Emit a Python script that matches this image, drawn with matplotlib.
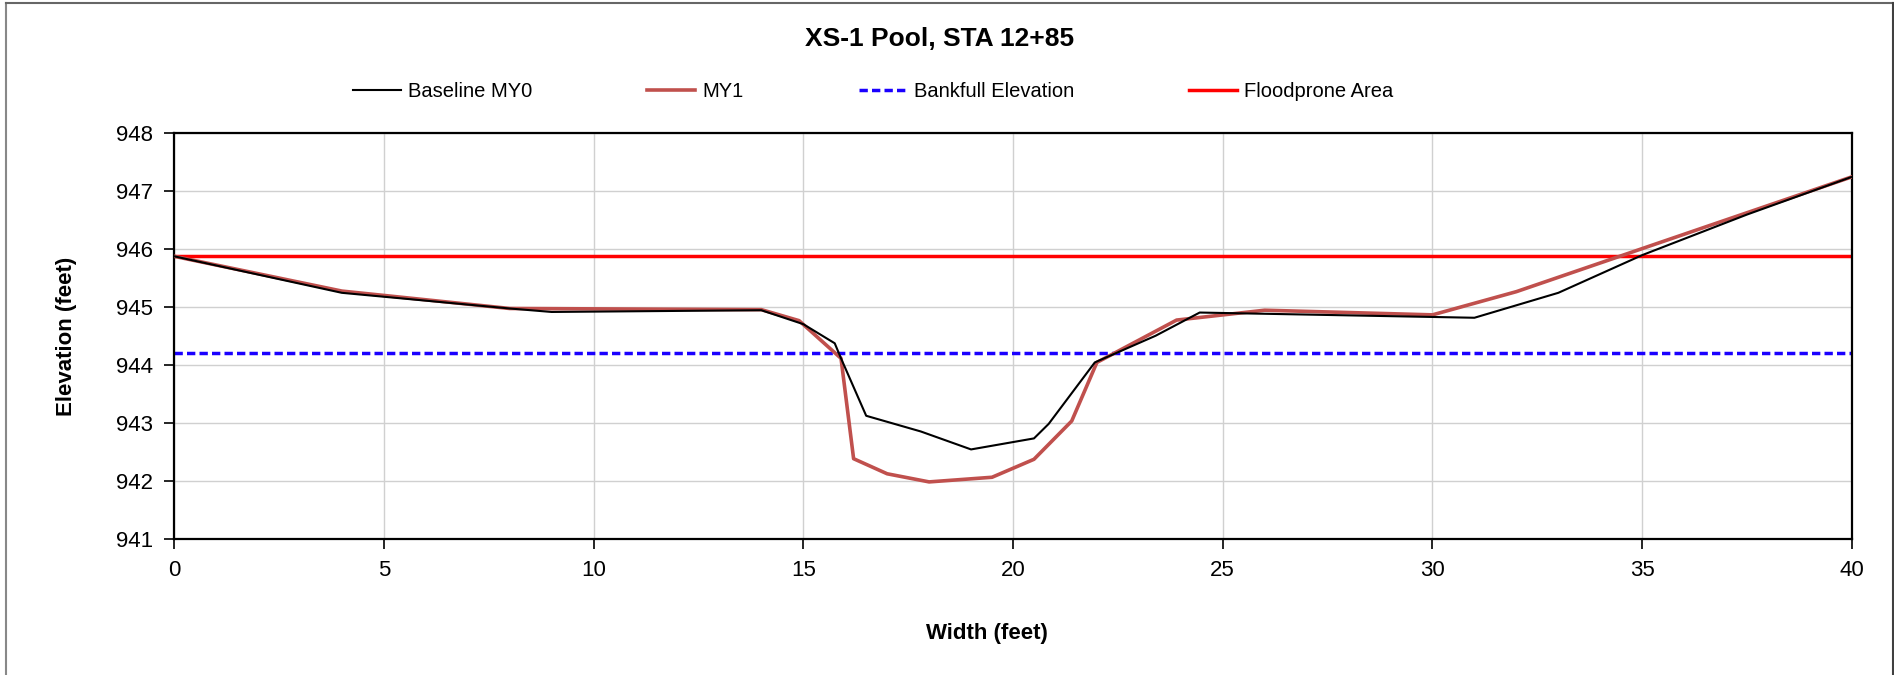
import matplotlib.pyplot as plt
from matplotlib.lines import Line2D

plt.rcParams['font.family'] = ['Liberation Sans', 'DejaVu Sans']

# station (ft) / elevation (ft)
base_x = [0, 4, 8, 9, 14, 15, 15.75, 15.9, 16.5, 17.8, 19.0, 20.5, 20.85, 21.95,
          23.4, 24.45, 31.0, 33.0, 35.0, 37.5, 40.0]
base_y = [945.88, 945.25, 944.98, 944.92, 944.95, 944.71, 944.38, 944.12, 943.13,
          942.86, 942.55, 942.74, 942.99, 944.05, 944.51, 944.91, 944.82, 945.25,
          945.9, 946.6, 947.25]

my1_x = [0, 4, 8, 14, 14.9, 15.9, 16.2, 17.0, 18.0, 19.5, 20.5, 21.4, 22.0, 23.9,
         26.0, 30.0, 32.0, 40.0]
my1_y = [945.88, 945.28, 944.98, 944.96, 944.77, 944.12, 942.39, 942.13, 941.99,
         942.07, 942.38, 943.04, 944.05, 944.78, 944.95, 944.87, 945.27, 947.25]

bankfull = 944.22
floodprone = 945.88
x_ticks = [0, 5, 10, 15, 20, 25, 30, 35, 40]
y_ticks = [941, 942, 943, 944, 945, 946, 947, 948]

fig = plt.figure(figsize=(18.94, 6.75), dpi=100)
ax = fig.add_axes([0.0919, 0.201, 0.8859, 0.6015])

ax.plot(base_x, base_y, color='black', lw=1.5, label='Baseline MY0', zorder=4)
ax.plot(my1_x, my1_y, color='#c0504d', lw=2.6, label='MY1', zorder=3)
ax.axhline(bankfull, color='#1a00ff', lw=2.5, ls=(0, (2.4, 1.2)),
           label='Bankfull Elevation', zorder=2)
ax.axhline(floodprone, color='#ff0000', lw=2.5, label='Floodprone Area', zorder=2)

ax.set_xlim(0, 40)
ax.set_ylim(941, 948)
ax.set_xticks(x_ticks)
ax.set_yticks(y_ticks)
ax.grid(True, color='#d0d0d0', lw=1)
ax.set_axisbelow(True)
ax.tick_params(direction='out', length=7, width=1.2, labelsize=16, pad=8)
for s in ax.spines.values():
    s.set_linewidth(1.6)

ax.set_xlabel('Width (feet)', fontsize=16, fontweight='bold')
ax.xaxis.set_label_coords(0.4845, -0.205)
ax.set_ylabel('Elevation (feet)', fontsize=16, fontweight='bold', labelpad=28)

fig.text(0.496, 0.942, 'XS-1 Pool, STA 12+85', ha='center', va='center',
         fontsize=19, fontweight='bold')
fig.legend(loc='center', bbox_to_anchor=(0.461, 0.865), ncol=4, frameon=False,
           fontsize=14.5, handlelength=2.4, handletextpad=0.35, columnspacing=5.7)

# chart-area frame (no bottom edge)
fig.add_artist(Line2D([0.003, 0.003], [0, 0.995], transform=fig.transFigure,
                      color='#888888', lw=1.5))
fig.add_artist(Line2D([0.003, 0.9993], [0.995, 0.995], transform=fig.transFigure,
                      color='#666666', lw=1.5))
fig.add_artist(Line2D([0.9993, 0.9993], [0, 0.995], transform=fig.transFigure,
                      color='#404040', lw=1.5))

fig.savefig('out.png', dpi=100)
